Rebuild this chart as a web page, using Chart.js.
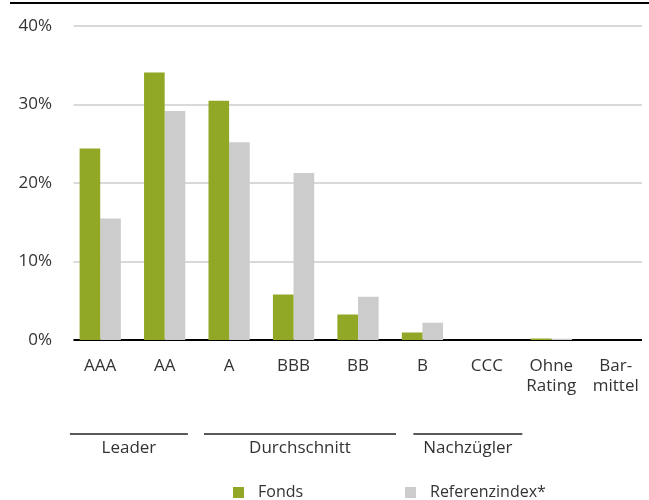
<!DOCTYPE html>
<html>
<head>
    <meta charset="utf-8">
    <title>Rating</title>
    <script src="https://cdn.jsdelivr.net/npm/chart.js"></script>
    <style>
        body { margin: 0; background: #fff; }
        #wrap { width: 649px; height: 500px; }
    </style>
</head>
<body>
    <div id="wrap">
        <canvas id="myChart" width="649" height="500"></canvas>
    </div>
    <script>
        const categories = ['AAA', 'AA', 'A', 'BBB', 'BB', 'B', 'CCC', ['Ohne', 'Rating'], ['Bar-', 'mittel']];
        const fonds = [24.4, 34.1, 30.5, 5.8, 3.25, 0.95, 0, 0.2, 0];
        const referenz = [15.5, 29.2, 25.2, 21.3, 5.5, 2.2, 0, 0.15, 0];
        const yTicks = [0, 10, 20, 30, 40];
        const groupLabels = ['Leader', 'Durchschnitt', 'Nachzügler'];
        const groupFirst = [0, 2, 5];
        const groupLast = [1, 4, 6];
        const seriesNames = ['Fonds', 'Referenzindex*'];

        const green = '#91a826';
        const grey = '#cccccc';
        const textColor = '#333333';
        const fontFamily = '"Open Sans", "Noto Sans", sans-serif';
        // bracket overhang left/right of the first/last bar pair, in category widths
        const bracketIn = [0.47, 0.39, 0.14];
        const bracketOut = [0.36, 0.59, 0.55];

        // horizontal gridlines, a bit inset from the plot edges
        const gridLines = {
            id: 'gridLines',
            beforeDatasetsDraw(chart) {
                const c = chart.ctx;
                const y = chart.scales.y;
                const a = chart.chartArea;
                c.save();
                c.lineWidth = 2;
                yTicks.forEach(v => {
                    const py = Math.round(y.getPixelForValue(v));
                    c.strokeStyle = v === 0 ? '#000000' : '#d9d9d9';
                    c.beginPath();
                    c.moveTo(a.left + 5.5, py);
                    c.lineTo(a.right - 6, py);
                    c.stroke();
                });
                c.restore();
            }
        };

        // extra drawing: top rule, group brackets, legend
        const extras = {
            id: 'extras',
            afterDraw(chart) {
                const c = chart.ctx;
                const x = chart.scales.x;
                const cw = x.getPixelForValue(1) - x.getPixelForValue(0);
                c.save();
                c.strokeStyle = '#000';
                c.lineWidth = 2;
                c.beginPath();
                c.moveTo(10, 3);
                c.lineTo(chart.width, 3);
                c.stroke();

                c.font = '17px ' + fontFamily;
                c.fillStyle = textColor;
                c.textAlign = 'center';
                c.textBaseline = 'middle';
                c.lineWidth = 1.5;
                c.strokeStyle = '#222';
                for (let i = 0; i < groupLabels.length; i++) {
                    const x0 = x.getPixelForValue(groupFirst[i]) - cw * bracketIn[i];
                    const x1 = x.getPixelForValue(groupLast[i]) + cw * bracketOut[i];
                    c.beginPath();
                    c.moveTo(x0, 434);
                    c.lineTo(x1, 434);
                    c.stroke();
                    c.fillText(groupLabels[i], (x0 + x1) / 2, 448);
                }

                // legend
                const colors = [green, grey];
                const lx = [233, 405];
                c.font = '16px ' + fontFamily;
                c.textAlign = 'left';
                for (let i = 0; i < seriesNames.length; i++) {
                    c.fillStyle = colors[i];
                    c.fillRect(lx[i], 487, 11, 11);
                    c.fillStyle = textColor;
                    c.fillText(seriesNames[i], lx[i] + 25, 492);
                }
                c.restore();
            }
        };

        const ctx = document.getElementById('myChart');
        Chart.defaults.font.family = fontFamily;
        Chart.defaults.font.size = 16;
        Chart.defaults.color = textColor;
        new Chart(ctx, {
            type: 'bar',
            data: {
                labels: categories,
                datasets: [{
                    label: seriesNames[0],
                    data: fonds,
                    backgroundColor: green,
                    borderWidth: 0
                }, {
                    label: seriesNames[1],
                    data: referenz,
                    backgroundColor: grey,
                    borderWidth: 0
                }]
            },
            options: {
                responsive: false,
                animation: false,
                layout: { padding: { top: 25, right: 1, left: 0, bottom: 0 } },
                plugins: {
                    legend: { display: false },
                    tooltip: { enabled: false }
                },
                datasets: {
                    bar: { categoryPercentage: 0.64, barPercentage: 1 }
                },
                scales: {
                    x: {
                        grid: { display: false },
                        border: { display: false },
                        ticks: { padding: 8, maxRotation: 0, autoSkip: false, font: { size: 17 } },
                        afterFit(scale) { scale.height = 160; }
                    },
                    y: {
                        min: 0,
                        max: 40,
                        afterBuildTicks(scale) { scale.ticks = yTicks.map(v => ({ value: v })); },
                        afterFit(scale) { scale.width = 68; },
                        border: { display: false },
                        grid: { display: false, drawTicks: false },
                        ticks: {
                            padding: 16,
                            font: { size: 17 },
                            callback: (v) => v + '%'
                        }
                    }
                }
            },
            plugins: [gridLines, extras]
        });
    </script>
</body>
</html>
